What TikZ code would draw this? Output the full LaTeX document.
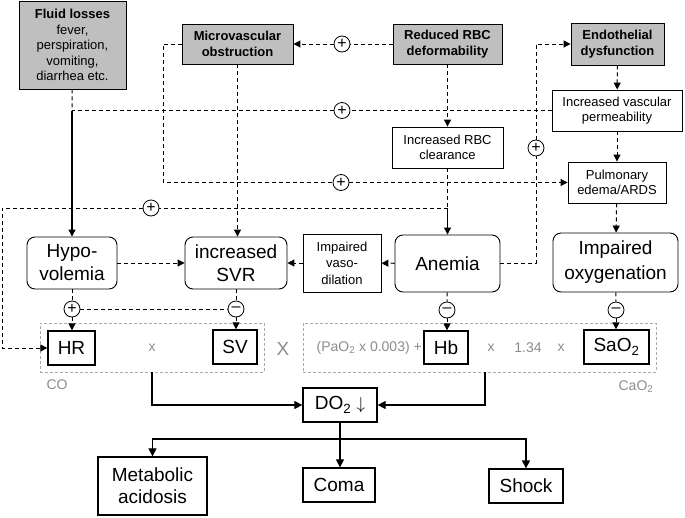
\documentclass[tikz,border=0pt]{standalone}
\usepackage{fontspec}
\setmainfont{Liberation Sans}
\definecolor{boxgray}{RGB}{191,191,191}
\definecolor{txtgray}{RGB}{140,140,140}
\definecolor{framegray}{RGB}{170,170,170}
\usetikzlibrary{arrows.meta,positioning,calc}

\begin{document}
\begin{tikzpicture}[x=1pt,y=-1pt,
  cause/.style={draw,line width=0.9pt,fill=boxgray,font=\fontsize{13}{15.5}\selectfont\bfseries,align=center,inner sep=2pt},
  effect/.style={draw,line width=0.9pt,fill=white,font=\fontsize{13}{15.5}\selectfont,align=center,inner sep=2pt},
  condition/.style={draw,line width=0.9pt,rounded corners=8pt,font=\fontsize{19}{23}\selectfont,align=center,inner sep=2pt},
  term/.style={draw,line width=1.3pt,font=\fontsize{19}{22}\selectfont,align=center,inner sep=2pt},
  sign/.style={draw,circle,line width=0.8pt,fill=white,minimum size=16pt,inner sep=0pt,font=\fontsize{16}{16}\selectfont},
  groupbox/.style={draw=framegray,dash pattern=on 3pt off 2pt,line width=0.6pt,inner sep=0pt},
  op/.style={text=txtgray,font=\fontsize{14}{16}\selectfont,inner sep=0pt},
  link/.style={dash pattern=on 4pt off 3pt,line width=1pt},
  arr/.style={-{Triangle[length=7pt,width=7pt]}},
  solidarr/.style={line width=1.1pt,-{Triangle[length=7pt,width=7pt]}},
  mainflow/.style={line width=1.2pt,-{Triangle[length=8pt,width=8pt]}}
]
  \useasboundingbox (0,0) rectangle (685,517);
  % Causes
  \node[cause,font=\fontsize{13}{15.4}\selectfont,minimum width=107pt,minimum height=88pt] (fluid) at (72.5,45)
    {\textbf{Fluid losses}\\fever,\\perspiration,\\vomiting,\\diarrhea etc.};
  \node[cause,minimum width=111pt,minimum height=40pt] (micro) at (237.5,44) {Microvascular\\obstruction};
  \node[cause,minimum width=109pt,minimum height=40pt] (rbcdef) at (447.5,44) {Reduced RBC\\deformability};
  \node[cause,minimum width=93pt,minimum height=42pt] (endo) at (617.5,44) {Endothelial\\dysfunction};
  % Intermediate effects
  \node[effect,minimum width=130pt,minimum height=41pt] (perm) at (617,110.5) {Increased vascular\\permeability};
  \node[effect,minimum width=111pt,minimum height=41pt] (clear) at (447.5,147.5) {Increased RBC\\clearance};
  \node[effect,minimum width=98pt,minimum height=41pt] (pulm) at (617,182.5) {Pulmonary\\edema/ARDS};
  \node[effect,font=\fontsize{13}{16.5}\selectfont,minimum width=78pt,minimum height=58pt] (vaso) at (342,263) {Impaired\\vaso-\\dilation};
  % Conditions
  \node[condition,minimum width=90pt,minimum height=52pt] (hypo) at (72,263) {Hypo-\\volemia};
  \node[condition,minimum width=102pt,minimum height=52pt] (svr) at (236,263) {increased\\SVR};
  \node[condition,minimum width=105pt,minimum height=57pt] (anemia) at (447.5,263.5) {Anemia};
  \node[condition,font=\fontsize{19}{25}\selectfont,minimum width=125pt,minimum height=59pt] (oxy) at (615.5,262.5) {Impaired\\oxygenation};
  % Formula
  \node[groupbox,minimum width=224pt,minimum height=49pt] (co) at (152,347.5) {};
  \node[groupbox,minimum width=353pt,minimum height=49pt] (cao) at (479.5,347.5) {};
  \node[term,minimum width=47pt,minimum height=34pt] (hr) at (71.5,348) {HR};
  \node[term,minimum width=44pt,minimum height=34pt] (sv) at (235,347) {SV};
  \node[term,minimum width=44pt,minimum height=33pt] (hb) at (446,347.5) {Hb};
  \node[term,minimum width=65pt,minimum height=34pt] (sao) at (616.5,347) {SaO\textsubscript{2}};
  \node[op] (times1) at (152,348) {x};
  \node[op,font=\fontsize{19}{21}\selectfont] (times2) at (283,349) {X};
  \node[op,anchor=east] (pao) at (422,348) {(PaO\textsubscript{2} x 0.003) +};
  \node[op] (times3) at (491,348) {x};
  \node[op] (const) at (528,348) {1.34};
  \node[op] (times4) at (561,348) {x};
  \node[op] (colabel) at (57,385) {CO};
  \node[op] (caolabel) at (636,387) {CaO\textsubscript{2}};
  % Outcomes
  \node[term,minimum width=74pt,minimum height=34pt] (do2) at (340,405) {DO\textsubscript{2} $\downarrow$};
  \node[term,minimum width=109pt,minimum height=58pt] (meta) at (152.5,486) {Metabolic\\acidosis};
  \node[term,minimum width=72pt,minimum height=34pt] (coma) at (339,485) {Coma};
  \node[term,minimum width=74pt,minimum height=34pt] (shock) at (526,486) {Shock};
  % Signs
  \node[sign] (s1) at (72,309) {+};
  \node[sign] (s2) at (236,309) {--};
  \node[sign] (s3) at (447,310) {--};
  \node[sign] (s4) at (616,310) {--};
  \node[sign] (s5) at (342,44) {+};
  \node[sign] (s6) at (342,110.5) {+};
  \node[sign] (s7) at (341,182.5) {+};
  \node[sign] (s8) at (151,208) {+};
  \node[sign] (s9) at (536,148) {+};
  % Junctions
  \coordinate (j1) at (72,110.5);
  \coordinate (j2) at (447.5,208);
  \coordinate (j3) at (340,439);
  \coordinate (k1) at (163,182.5);
  \coordinate (k2) at (2,348);
  % Dashed links
  \draw[link] (fluid) -- (j1);
  \draw[link] (perm) -- (s6);
  \draw[link] (s6) -- (j1);
  \draw[link] (rbcdef) -- (s5);
  \draw[link,arr] (s5) -- (micro);
  \draw[link] (micro.west) -| (k1) -- (s7);
  \draw[link,arr] (s7) -- (pulm);
  \draw[link,arr] (micro) -- (micro |- svr.north);
  \draw[link,arr] (rbcdef) -- (clear);
  \draw[link] (clear) -- (j2);
  \draw[link] (j2) -- (s8);
  \draw[link,arr] (s8) -| (k2) -- (hr);
  \draw[link] (anemia.east) -| (s9);
  \draw[link,arr] (s9) |- (endo);
  \foreach \a/\b in {endo/perm, perm/pulm, pulm/oxy, hypo/svr, vaso/svr, anemia/vaso} {
    \draw[link,arr] (\a) -- (\b);
  }
  \foreach \a/\b in {hypo/s1, svr/s2, anemia/s3, oxy/s4, s1/s2} {
    \draw[link] (\a) -- (\b);
  }
  \foreach \a/\b in {s1/hr, s2/sv, s3/hb, s4/sao} {
    \draw[link,arr] (\a) -- (\a |- \b.north);
  }
  % Solid arrows
  \draw[solidarr] (j1) -- (hypo);
  \draw[solidarr] (j2) -- (anemia);
  \draw[mainflow] (co) |- (do2);
  \draw[mainflow] ([xshift=5.5pt]cao.south) |- (do2);
  \draw[line width=2pt] (do2) -- (j3);
  \draw[mainflow] (j3) -| (meta);
  \draw[mainflow] (j3) -- (j3 |- coma.north);
  \draw[mainflow] (j3) -| (shock);
\end{tikzpicture}
\end{document}
